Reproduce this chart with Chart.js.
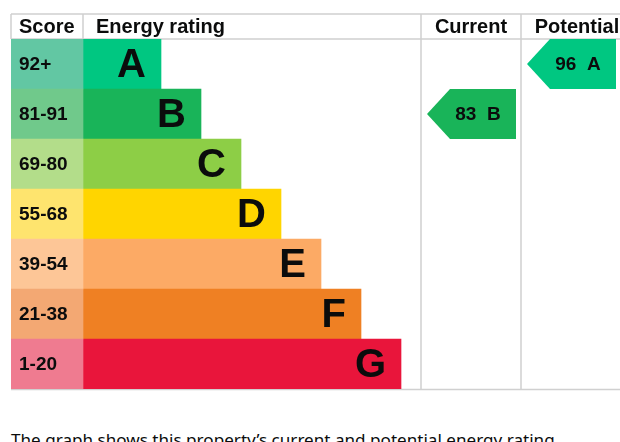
<!DOCTYPE html>
<html>
<head>
<meta charset="utf-8">
<script src="https://cdn.jsdelivr.net/npm/chart.js@4.4.1/dist/chart.umd.min.js"></script>
<style>
  html, body { margin: 0; padding: 0; background: #fff; }
  #frame { position: relative; width: 620px; height: 442px; overflow: hidden; }
  #wrap { position: absolute; left: 0; top: 0; width: 640px; height: 392px; }
  #caption {
    position: absolute; left: 11px; top: 431px; margin: 0;
    font-family: "Noto Sans", sans-serif; font-size: 17.1px; line-height: 18px;
    color: #0b0c0c; white-space: nowrap;
  }
</style>
</head>
<body>
<div id="frame">
  <div id="wrap"><canvas id="epc"></canvas></div>
  <p id="caption">The graph shows this property’s current and potential energy rating.</p>
</div>
<script>
// Rating bands, top to bottom
const bands = ["A", "B", "C", "D", "E", "F", "G"];
const scoreRanges = ["92+", "81-91", "69-80", "55-68", "39-54", "21-38", "1-20"];
// Length of each coloured band bar (chart units)
const bandLengths = [78, 118, 158, 198, 238, 278, 318];
const bandColors = ["#00c781", "#19b459", "#8dce46", "#ffd500", "#fcaa65", "#ef8023", "#e9153b"];
const scoreColors = ["#62c7a3", "#70c98b", "#b3dd8a", "#fee46e", "#fdc697", "#f3a873", "#ef7b90"];
const headers = ["Score", "Energy rating", "Current", "Potential"];

const currentScore = 83;
const currentBand = "B";
const potentialScore = 96;
const potentialBand = "A";

// column boundaries along the x scale
const COL_SCORE_END = 72;
const COL_CURRENT = 410;
const COL_POTENTIAL = 510;
const COL_END = 622;
const ARROW_INSET = 6;
const ARROW_WIDTH = 89;

const FONT = '"Liberation Sans", Arial, sans-serif';
const LINE = "#d0d0d0";

function arrowData(band, colStart) {
  return bands.map((b) => (b === band ? [colStart + ARROW_INSET, colStart + ARROW_INSET + ARROW_WIDTH] : null));
}

const epcPlugin = {
  id: "epcDecor",
  beforeDatasetsDraw(chart) {
    const { ctx, chartArea, scales } = chart;
    const x = scales.x;
    const left = x.getPixelForValue(0);
    const right = chart.width;
    const top = 14;
    const headBottom = chartArea.top;
    const bottom = chartArea.bottom;

    ctx.save();
    ctx.strokeStyle = LINE;
    ctx.lineWidth = 1.5;
    ctx.beginPath();
    // top border and header underline
    ctx.moveTo(left, top); ctx.lineTo(right, top);
    ctx.moveTo(left, headBottom); ctx.lineTo(right, headBottom);
    ctx.moveTo(left, bottom + 0.5); ctx.lineTo(right, bottom + 0.5);
    // header separators
    ctx.moveTo(left, top); ctx.lineTo(left, headBottom);
    const sx = x.getPixelForValue(COL_SCORE_END);
    ctx.moveTo(sx, top); ctx.lineTo(sx, headBottom);
    // current / potential column lines
    [COL_CURRENT, COL_POTENTIAL].forEach((v) => {
      const px = x.getPixelForValue(v);
      ctx.moveTo(px, top); ctx.lineTo(px, bottom);
    });
    ctx.stroke();

    // header text
    ctx.fillStyle = "#0b0c0c";
    ctx.font = "bold 20px " + FONT;
    ctx.textBaseline = "middle";
    const hy = (top + headBottom) / 2 + 1;
    ctx.textAlign = "left";
    ctx.fillText(headers[0], left + 8, hy);
    ctx.fillText(headers[1], sx + 13, hy);
    ctx.textAlign = "center";
    ctx.fillText(headers[2], (x.getPixelForValue(COL_CURRENT) + x.getPixelForValue(COL_POTENTIAL)) / 2, hy);
    ctx.fillText(headers[3], (x.getPixelForValue(COL_POTENTIAL) + x.getPixelForValue(COL_END)) / 2, hy);
    ctx.restore();
  },
  afterDatasetsDraw(chart) {
    const { ctx } = chart;
    ctx.save();
    ctx.fillStyle = "#0b0c0c";
    ctx.textBaseline = "middle";

    // score range labels
    const scoreMeta = chart.getDatasetMeta(0);
    ctx.font = "bold 19px " + FONT;
    ctx.textAlign = "left";
    scoreMeta.data.forEach((el, i) => {
      const p = el.getProps(["base", "y"], true);
      ctx.fillText(scoreRanges[i], p.base + 8, p.y + 1);
    });

    // band letters
    const bandMeta = chart.getDatasetMeta(1);
    ctx.font = "bold 40px " + FONT;
    ctx.textAlign = "right";
    bandMeta.data.forEach((el, i) => {
      const p = el.getProps(["x", "y"], true);
      ctx.fillText(bands[i], p.x - 15, p.y + 2);
    });

    // current / potential arrows
    [2, 3].forEach((di) => {
      const ds = chart.data.datasets[di];
      const meta = chart.getDatasetMeta(di);
      meta.data.forEach((el, i) => {
        if (ds.data[i] === null) return;
        const p = el.getProps(["x", "base", "y", "height"], true);
        const h = p.height / 2;
        const tip = h - 2;
        ctx.fillStyle = ds.arrowColor;
        ctx.beginPath();
        ctx.moveTo(p.base, p.y);
        ctx.lineTo(p.base + tip, p.y - h);
        ctx.lineTo(p.x, p.y - h);
        ctx.lineTo(p.x, p.y + h);
        ctx.lineTo(p.base + tip, p.y + h);
        ctx.closePath();
        ctx.fill();
        ctx.fillStyle = "#0b0c0c";
        ctx.font = "bold 19px " + FONT;
        ctx.textAlign = "center";
        const cx = (p.base + tip + p.x) / 2 - 5;
        ctx.fillText(ds.score + "  " + ds.band, cx, p.y + 1);
      });
    });
    ctx.restore();
  }
};

function buildChart() {
  new Chart(document.getElementById("epc"), {
    type: "bar",
    data: {
      labels: bands,
      datasets: [
        {
          label: "Score",
          data: bands.map(() => [0, COL_SCORE_END]),
          backgroundColor: scoreColors
        },
        {
          label: "Energy rating",
          data: bandLengths.map((len) => [COL_SCORE_END, COL_SCORE_END + len]),
          backgroundColor: bandColors
        },
        {
          label: "Current",
          data: arrowData(currentBand, COL_CURRENT),
          backgroundColor: "rgba(0,0,0,0)",
          arrowColor: "#19b459",
          score: currentScore,
          band: currentBand
        },
        {
          label: "Potential",
          data: arrowData(potentialBand, COL_POTENTIAL),
          backgroundColor: "rgba(0,0,0,0)",
          arrowColor: "#00c781",
          score: potentialScore,
          band: potentialBand
        }
      ]
    },
    options: {
      indexAxis: "y",
      responsive: true,
      maintainAspectRatio: false,
      animation: false,
      events: [],
      layout: { padding: { top: 39, left: 11, right: 7, bottom: 3 } },
      datasets: { bar: { categoryPercentage: 1, barPercentage: 1, borderWidth: 0, borderSkipped: false } },
      plugins: { legend: { display: false }, tooltip: { enabled: false } },
      scales: {
        x: { display: false, min: 0, max: COL_END, stacked: false },
        y: { display: false, stacked: true }
      }
    },
    plugins: [epcPlugin]
  });
}

// make sure the bold sans face is ready before the canvas draws text
if (document.fonts && document.fonts.load) {
  document.fonts.load('bold 20px "Liberation Sans"').then(buildChart, buildChart);
} else {
  buildChart();
}
</script>
</body>
</html>
